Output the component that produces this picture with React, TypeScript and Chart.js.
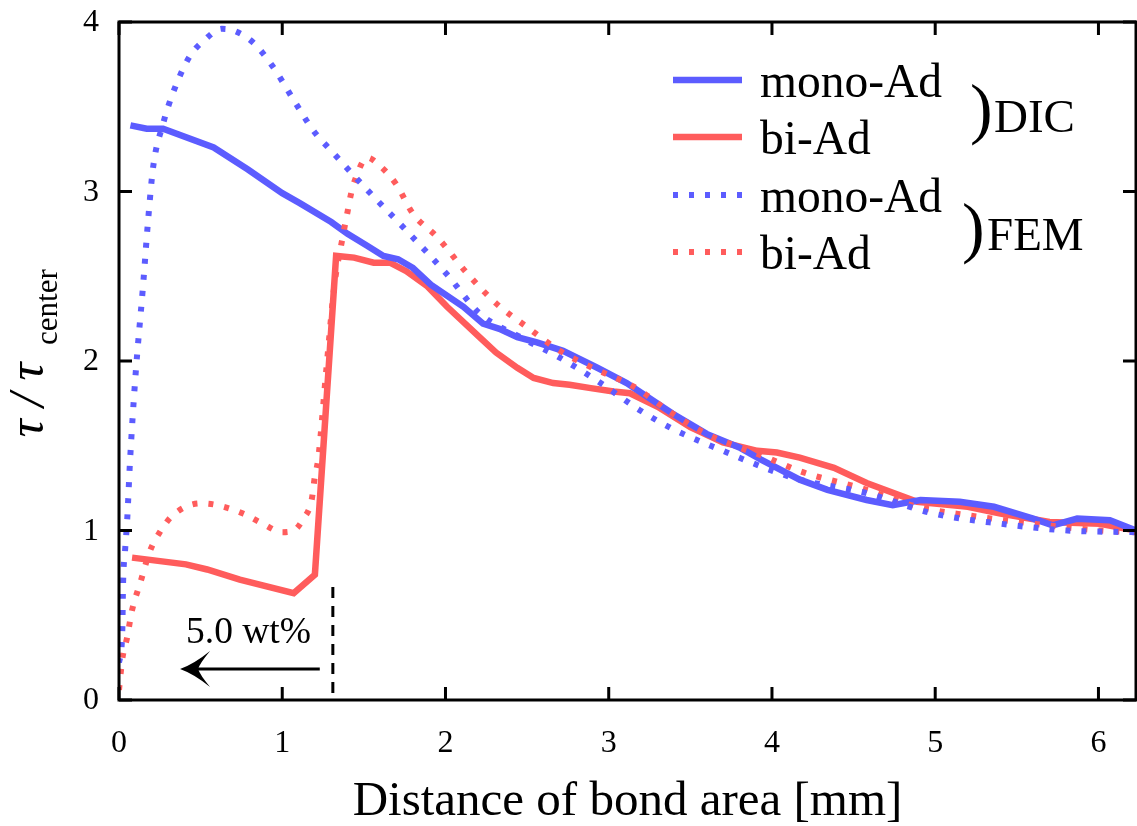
import React, { useEffect, useRef } from "react";
import { Chart, registerables } from "chart.js";

Chart.register(...registerables);

// ---- data ----
const monoDicX = [0.07, 0.17, 0.27, 0.58, 0.79, 1.0, 1.11, 1.3, 1.4, 1.52, 1.62, 1.71, 1.8, 1.91, 2.11, 2.23, 2.33, 2.44, 2.56, 2.72, 2.93, 3.11, 3.39, 3.6, 3.8, 3.93, 4.17, 4.34, 4.58, 4.74, 4.91, 5.15, 5.36, 5.6, 5.72, 5.87, 6.07, 6.23];
const monoDicY = [3.39, 3.37, 3.37, 3.26, 3.13, 2.99, 2.93, 2.82, 2.75, 2.68, 2.62, 2.6, 2.55, 2.45, 2.32, 2.22, 2.19, 2.14, 2.11, 2.06, 1.96, 1.87, 1.69, 1.57, 1.49, 1.42, 1.3, 1.24, 1.18, 1.15, 1.18, 1.17, 1.14, 1.07, 1.03, 1.07, 1.06, 1.0];

const biDicX = [0.08, 0.41, 0.54, 0.74, 1.07, 1.2, 1.33, 1.44, 1.56, 1.66, 1.76, 1.89, 2.01, 2.21, 2.31, 2.44, 2.54, 2.66, 2.76, 2.89, 3.03, 3.13, 3.3, 3.5, 3.7, 3.91, 4.03, 4.17, 4.38, 4.58, 4.89, 5.2, 5.4, 5.7, 6.01, 6.23];
const biDicY = [0.84, 0.8, 0.77, 0.71, 0.63, 0.74, 2.62, 2.61, 2.58, 2.58, 2.53, 2.44, 2.32, 2.14, 2.05, 1.96, 1.9, 1.87, 1.86, 1.84, 1.82, 1.81, 1.73, 1.61, 1.52, 1.47, 1.46, 1.43, 1.37, 1.28, 1.17, 1.14, 1.1, 1.05, 1.04, 1.0];

const monoFemX = [0, 0.02, 0.025, 0.037, 0.05, 0.067, 0.1, 0.147, 0.18, 0.21, 0.27, 0.33, 0.435, 0.52, 0.63, 0.7, 0.82, 0.94, 1.07, 1.19, 1.31, 1.52, 1.76, 2.01, 2.21, 2.46, 2.7, 2.95, 3.19, 3.39, 3.7, 4.01, 4.17, 4.58, 4.99, 5.4, 5.81, 6.23];
const monoFemY = [0.22, 0.4, 0.69, 0.88, 1.06, 1.4, 1.9, 2.44, 2.85, 3.15, 3.4, 3.58, 3.8, 3.89, 3.96, 3.95, 3.88, 3.74, 3.54, 3.36, 3.23, 3.01, 2.77, 2.51, 2.28, 2.14, 2.02, 1.87, 1.71, 1.6, 1.47, 1.35, 1.3, 1.22, 1.1, 1.04, 1.0, 0.99];

const biFemX = [0, 0.02, 0.05, 0.08, 0.13, 0.19, 0.25, 0.33, 0.5, 0.6, 0.76, 0.88, 1.0, 1.07, 1.13, 1.18, 1.2, 1.22, 1.27, 1.32, 1.37, 1.4, 1.42, 1.45, 1.52, 1.6, 1.7, 1.8, 1.95, 2.13, 2.31, 2.5, 2.7, 2.9, 3.15, 3.39, 3.6, 3.8, 3.97, 4.17, 4.58, 4.89, 5.2, 5.6, 6.01, 6.23];
const biFemY = [0.06, 0.24, 0.37, 0.53, 0.69, 0.88, 0.99, 1.09, 1.16, 1.15, 1.1, 1.04, 0.99, 1.0, 1.07, 1.18, 1.32, 1.42, 1.95, 2.45, 2.73, 2.88, 2.98, 3.08, 3.2, 3.15, 3.04, 2.87, 2.73, 2.52, 2.34, 2.2, 2.06, 1.96, 1.85, 1.69, 1.57, 1.49, 1.43, 1.35, 1.24, 1.14, 1.09, 1.04, 1.0, 0.99];

const xTicks = [0, 1, 2, 3, 4, 5, 6];
const yTicks = [0, 1, 2, 3, 4];
const xTickLabels = ["0", "1", "2", "3", "4", "5", "6"];
const yTickLabels = ["0", "1", "2", "3", "4"];

const legendLabels = ["mono-Ad", "bi-Ad", "mono-Ad", "bi-Ad"];
const groupLabels = ["DIC", "FEM"];
const xTitle = "Distance of bond area [mm]";
const annotationText = "5.0 wt%";

// annotation positions in data units
const markerX = 1.31;
const markerTopY = 0.667;
const arrowFromX = 1.23;
const arrowToX = 0.374;
const arrowY = 0.183;

const BLUE = "#5c5cff";
const RED = "#ff5c5c";
const FONT = "'Liberation Serif', 'Times New Roman', serif";

const pts = (xs: number[], ys: number[]) => xs.map((x, i) => ({ x, y: ys[i] }));

const decorPlugin = {
  id: "decor",
  afterDraw(chart: any) {
    const ctx = chart.ctx as CanvasRenderingContext2D;
    const xs = chart.scales.x;
    const ys = chart.scales.y;
    const { left, right, top, bottom } = chart.chartArea;
    ctx.save();

    // frame
    ctx.strokeStyle = "#000";
    ctx.lineWidth = 3;
    ctx.setLineDash([]);
    ctx.strokeRect(left, top, right - left, bottom - top);

    // inward ticks
    const tl = 13;
    ctx.beginPath();
    xTicks.forEach((v) => {
      const px = xs.getPixelForValue(v);
      ctx.moveTo(px, bottom);
      ctx.lineTo(px, bottom - tl);
      ctx.moveTo(px, top);
      ctx.lineTo(px, top + tl);
    });
    yTicks.forEach((v) => {
      const py = ys.getPixelForValue(v);
      ctx.moveTo(left, py);
      ctx.lineTo(left + tl, py);
      ctx.moveTo(right, py);
      ctx.lineTo(right - tl, py);
    });
    ctx.stroke();

    // tick labels
    ctx.fillStyle = "#000";
    ctx.font = `32px ${FONT}`;
    ctx.textAlign = "center";
    ctx.textBaseline = "alphabetic";
    xTicks.forEach((v, i) => {
      ctx.fillText(xTickLabels[i], xs.getPixelForValue(v), bottom + 52);
    });
    ctx.textAlign = "right";
    ctx.textBaseline = "middle";
    yTicks.forEach((v, i) => {
      ctx.fillText(yTickLabels[i], left - 20, ys.getPixelForValue(v) + 1);
    });

    // x title
    ctx.font = `49px ${FONT}`;
    ctx.textAlign = "center";
    ctx.textBaseline = "alphabetic";
    ctx.fillText(xTitle, (left + right) / 2, 815);

    // y title (rotated, with subscript)
    ctx.save();
    ctx.translate(43, 400);
    ctx.rotate(-Math.PI / 2);
    ctx.font = `italic 50px ${FONT}`;
    ctx.textAlign = "center";
    ctx.textBaseline = "alphabetic";
    ctx.fillText("\u03c4 / \u03c4", 0, 0);
    ctx.font = `31px ${FONT}`;
    ctx.textAlign = "left";
    ctx.fillText("center", 55, 14);
    ctx.restore();

    // legend
    const rows = [80, 137, 195, 252];
    const styles = [
      { c: BLUE, d: [] as number[], w: 6.5 },
      { c: RED, d: [] as number[], w: 6.5 },
      { c: BLUE, d: [5, 11], w: 6 },
      { c: RED, d: [5, 11], w: 6 },
    ];
    rows.forEach((ry, i) => {
      ctx.strokeStyle = styles[i].c;
      ctx.lineWidth = styles[i].w;
      ctx.setLineDash(styles[i].d);
      ctx.lineCap = "butt";
      ctx.beginPath();
      ctx.moveTo(673, ry);
      ctx.lineTo(742, ry);
      ctx.stroke();
      ctx.fillStyle = "#000";
      ctx.font = `47.5px ${FONT}`;
      ctx.textAlign = "left";
      ctx.textBaseline = "alphabetic";
      ctx.fillText(legendLabels[i], 760, ry + 17);
    });
    ctx.setLineDash([]);
    // group brackets
    ctx.font = `68px ${FONT}`;
    ctx.fillText(")", 970, 131);
    ctx.fillText(")", 962, 250);
    ctx.font = `47px ${FONT}`;
    ctx.fillText(groupLabels[0], 994, 132);
    ctx.fillText(groupLabels[1], 987, 250);

    // annotation: dashed marker
    const mx = xs.getPixelForValue(markerX);
    ctx.strokeStyle = "#000";
    ctx.lineWidth = 3;
    ctx.setLineDash([11, 8]);
    ctx.beginPath();
    ctx.moveTo(mx, ys.getPixelForValue(markerTopY));
    ctx.lineTo(mx, bottom);
    ctx.stroke();
    ctx.setLineDash([]);

    // arrow
    const ax0 = xs.getPixelForValue(arrowFromX);
    const ax1 = xs.getPixelForValue(arrowToX);
    const ay = ys.getPixelForValue(arrowY);
    ctx.lineWidth = 3;
    ctx.beginPath();
    ctx.moveTo(ax0, ay);
    ctx.lineTo(ax1 + 15, ay);
    ctx.stroke();
    ctx.fillStyle = "#000";
    ctx.beginPath();
    ctx.moveTo(ax1, ay);
    ctx.quadraticCurveTo(ax1 + 14, ay - 5, ax1 + 30, ay - 18);
    ctx.quadraticCurveTo(ax1 + 20, ay - 6, ax1 + 18, ay);
    ctx.quadraticCurveTo(ax1 + 20, ay + 6, ax1 + 30, ay + 18);
    ctx.quadraticCurveTo(ax1 + 14, ay + 5, ax1, ay);
    ctx.closePath();
    ctx.fill();

    ctx.font = `37.5px ${FONT}`;
    ctx.textAlign = "left";
    ctx.textBaseline = "alphabetic";
    ctx.fillText(annotationText, 186, 643);

    ctx.restore();
  },
};

export default function App() {
  const ref = useRef<HTMLCanvasElement | null>(null);
  useEffect(() => {
    if (!ref.current) return;
    const chart = new Chart(ref.current, {
      type: "line",
      data: {
        datasets: [
          {
            label: "mono-Ad FEM",
            data: pts(monoFemX, monoFemY),
            borderColor: BLUE,
            borderWidth: 6,
            borderDash: [5, 11],
            pointRadius: 0,
            cubicInterpolationMode: "monotone",
            fill: false,
          },
          {
            label: "bi-Ad FEM",
            data: pts(biFemX, biFemY),
            borderColor: RED,
            borderWidth: 6,
            borderDash: [5, 11],
            pointRadius: 0,
            cubicInterpolationMode: "monotone",
            fill: false,
          },
          {
            label: "mono-Ad DIC",
            data: pts(monoDicX, monoDicY),
            borderColor: BLUE,
            borderWidth: 6.5,
            pointRadius: 0,
            tension: 0,
            fill: false,
          },
          {
            label: "bi-Ad DIC",
            data: pts(biDicX, biDicY),
            borderColor: RED,
            borderWidth: 6.5,
            pointRadius: 0,
            tension: 0,
            fill: false,
          },
        ],
      },
      options: {
        responsive: false,
        animation: false,
        devicePixelRatio: 1,
        layout: { padding: { left: 119, top: 22, right: 1, bottom: 126 } },
        scales: {
          x: { type: "linear", min: 0, max: 6.23, display: false },
          y: { type: "linear", min: 0, max: 4, display: false },
        },
        plugins: { legend: { display: false }, tooltip: { enabled: false } },
      },
      plugins: [decorPlugin],
    } as any);
    if ((document as any).fonts && (document as any).fonts.ready) {
      (document as any).fonts.ready.then(() => {
        try { chart.draw(); } catch (e) { /* destroyed */ }
      });
    }
    return () => chart.destroy();
  }, []);
  return (
    <div style={{ position: "absolute", left: 0, top: 0, width: 1137, height: 826, background: "#fff" }}>
      <canvas ref={ref} width={1137} height={826} />
    </div>
  );
}
